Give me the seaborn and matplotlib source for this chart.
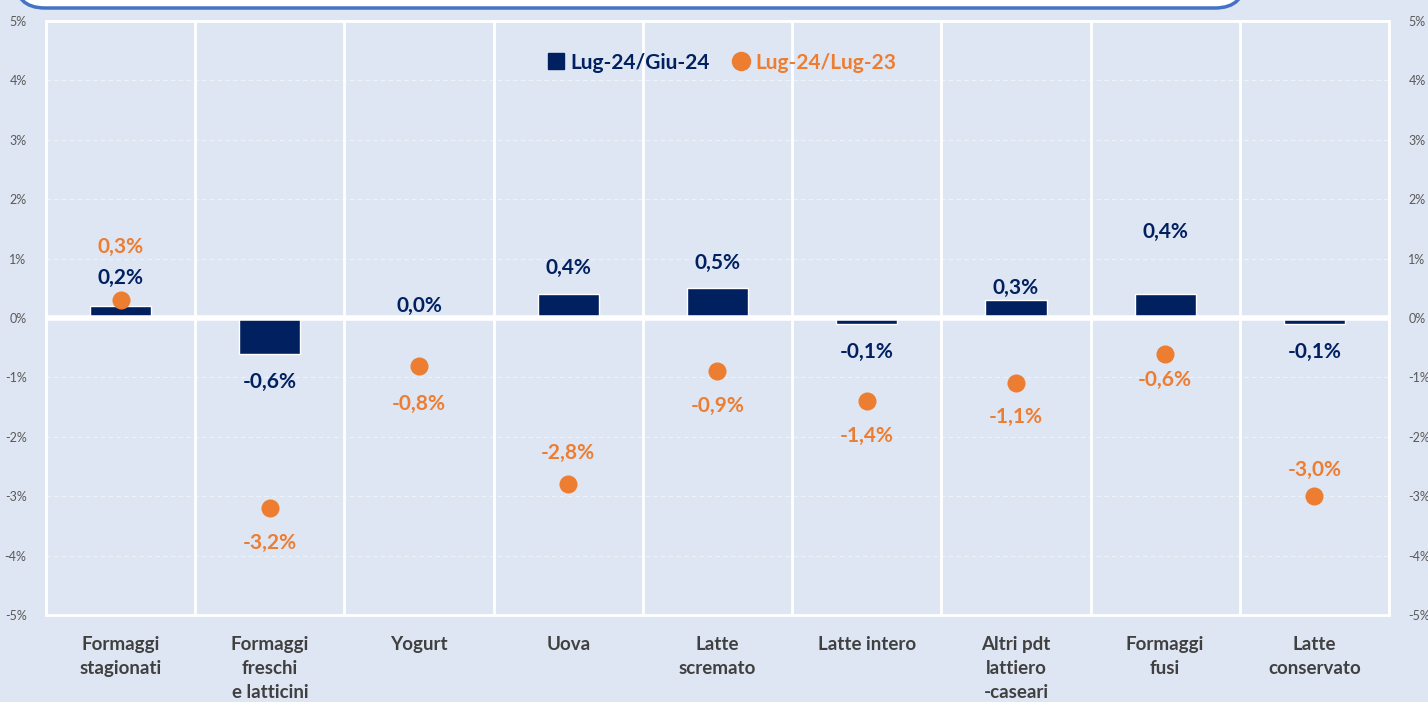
import numpy as np
import pandas as pd
import matplotlib
matplotlib.use("Agg")
import matplotlib.pyplot as plt
import seaborn as sns
from matplotlib.patches import FancyBboxPatch
from matplotlib.lines import Line2D

# dati
categorie = ["Formaggi\nstagionati", "Formaggi\nfreschi\ne latticini", "Yogurt", "Uova",
             "Latte\nscremato", "Latte intero", "Altri pdt\nlattiero\n-caseari",
             "Formaggi\nfusi", "Latte\nconservato"]
var_mese = [0.2, -0.6, 0.0, 0.4, 0.5, -0.1, 0.3, 0.4, -0.1]      # Lug-24/Giu-24
var_anno = [0.3, -3.2, -0.8, -2.8, -0.9, -1.4, -1.1, -0.6, -3.0]  # Lug-24/Lug-23
serie_mese = "Lug-24/Giu-24"
serie_anno = "Lug-24/Lug-23"

# spostamento etichette (pixel, positivo = verso l'alto)
off_mese = [28, -28, 12, 26, 25, -28, 12, 62, -28]
off_anno = [53, -35, -38, 31, -35, -35, -34, -26, 26]

df = pd.DataFrame({"cat": categorie, "mese": var_mese, "anno": var_anno})

BLU = "#002060"
ARANCIO = "#ED7D31"
SFONDO = "#DFE6F3"

sns.set_style("white")
plt.rcParams["font.family"] = ["Lato", "DejaVu Sans"]

fig = plt.figure(figsize=(14.28, 7.02), dpi=100, facecolor=SFONDO)
ax = fig.add_axes([46 / 1428, 1 - 615 / 702, (1389 - 46) / 1428, (615 - 21) / 702])
ax.set_facecolor(SFONDO)

sns.barplot(data=df, x="cat", y="mese", color=BLU, width=0.41, saturation=1,
            ax=ax, zorder=2)
sns.stripplot(data=df, x="cat", y="anno", color=ARANCIO, size=13, jitter=False,
              ax=ax, zorder=4, linewidth=0)

ax.set_ylim(-5, 5)
ax.set_xlim(-0.5, len(categorie) - 0.5)
ax.set_yticks(range(-5, 6))
ax.set_yticklabels([f"{v}%" for v in range(-5, 6)])
ax.tick_params(axis="y", labelsize=9, colors="#595959", length=0, pad=14,
               labelright=True, right=False)
ax.tick_params(axis="x", length=0, pad=15)
for lab in ax.get_xticklabels():
    lab.set_fontweight("bold")
    lab.set_fontsize(13.5)
    lab.set_color("#404040")
    lab.set_linespacing(1.5)
    lab.set_verticalalignment("top")
ax.set_xlabel("")
ax.set_ylabel("")

# griglia
for y in range(-4, 5):
    if y != 0:
        ax.axhline(y, color="#EEF2F9", lw=0.8, ls=(0, (4, 3)), zorder=1)
for x in np.arange(0.5, len(categorie) - 1, 1):
    ax.axvline(x, color="white", lw=2, zorder=1)
ax.axhline(0, color="white", lw=4, zorder=3)
for s in ax.spines.values():
    s.set_color("white")
    s.set_linewidth(2)

# etichette
for i, (m, a) in enumerate(zip(var_mese, var_anno)):
    ax.annotate(f"{m:.1f}%".replace(".", ","), (i, m), xytext=(0, off_mese[i]),
                textcoords="offset pixels", ha="center", va="center",
                fontsize=15, fontweight="bold", color=BLU, zorder=5)
    ax.annotate(f"{a:.1f}%".replace(".", ","), (i, a), xytext=(0, off_anno[i]),
                textcoords="offset pixels", ha="center", va="center",
                fontsize=15, fontweight="bold", color=ARANCIO, zorder=5)

# legenda
handles = [Line2D([], [], marker="s", ls="", color=BLU, markersize=11),
           Line2D([], [], marker="o", ls="", color=ARANCIO, markersize=13)]
leg = ax.legend(handles, [serie_mese, serie_anno], loc="center",
                bbox_to_anchor=(0.502, 0.930), ncol=2, frameon=False,
                prop={"weight": "bold", "size": 15}, handletextpad=0.1,
                columnspacing=0.9, handlelength=1.2)
for t, c in zip(leg.get_texts(), [BLU, ARANCIO]):
    t.set_color(c)

# riquadro del titolo (tagliato in alto)
box = FancyBboxPatch((15, 702 - 8), 1230, 80, boxstyle="round,pad=0,rounding_size=30",
                     transform=None, facecolor="white", edgecolor="#4472C4", lw=2.5,
                     clip_on=False)
fig.add_artist(box)

fig.savefig("out.png", dpi=100, facecolor=SFONDO)
